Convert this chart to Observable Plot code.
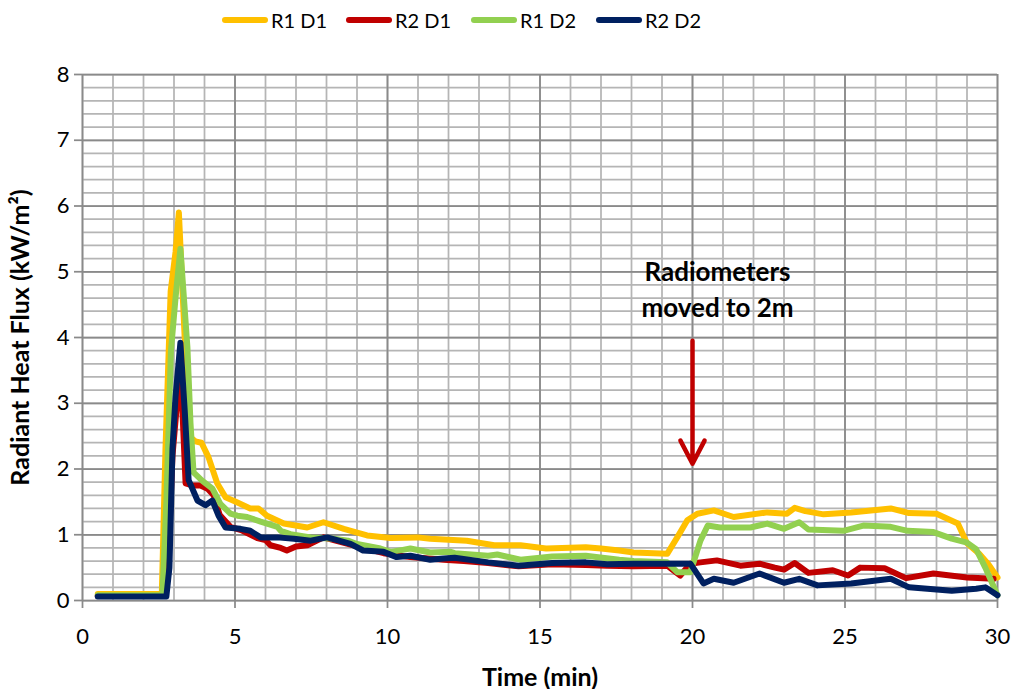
<!DOCTYPE html>
<html>
<head>
<meta charset="utf-8">
<script src="https://cdn.jsdelivr.net/npm/d3@7"></script>
<script src="https://cdn.jsdelivr.net/npm/@observablehq/plot@0.6"></script>
<style>
  html, body { margin: 0; padding: 0; background: #fff; }
  #legend { height: 40px; position: relative; font-family: Lato, "Open Sans", sans-serif; font-size: 20px; color: #000; }
  .item { position: absolute; top: 8px; display: flex; align-items: center; height: 24px; }
  .sw { width: 46px; height: 6px; border-radius: 3px; margin-right: 3px; }
</style>
</head>
<body>
<div id="legend"></div>
<div id="chart"></div>
<script>
const seriesNames = ["R1 D1", "R2 D1", "R1 D2", "R2 D2"];
const seriesColors = ["#FFC000", "#C00000", "#92D050", "#002060"];

const tR1D1 = [0.5, 2.6, 2.72, 2.89, 3.05, 3.16, 3.35, 3.54, 3.7, 3.9, 4.13, 4.42, 4.69, 5.08, 5.5, 5.77, 6.05, 6.6, 7.37, 7.9, 8.57, 8.8, 9.33, 10.1, 10.98, 11.4, 12.6, 13.5, 14.36, 15.2, 16.5, 17.0, 17.6, 18.07, 19.17, 19.5, 19.83, 20.16, 20.7, 21.35, 22.45, 23.1, 23.35, 23.7, 24.3, 25.2, 26.5, 27.1, 28.0, 28.7, 29.0, 29.4, 29.7, 30.0];
const vR1D1 = [0.1, 0.1, 2.3, 4.7, 5.3, 5.9, 4.0, 2.48, 2.42, 2.4, 2.18, 1.78, 1.57, 1.49, 1.4, 1.4, 1.29, 1.17, 1.11, 1.19, 1.09, 1.06, 0.99, 0.95, 0.96, 0.94, 0.91, 0.84, 0.84, 0.79, 0.81, 0.79, 0.76, 0.73, 0.71, 0.96, 1.22, 1.32, 1.37, 1.27, 1.34, 1.32, 1.41, 1.36, 1.31, 1.34, 1.4, 1.33, 1.32, 1.17, 0.87, 0.71, 0.55, 0.35];

const tR2D1 = [0.5, 2.7, 2.8, 2.95, 3.1, 3.22, 3.38, 3.6, 3.87, 4.1, 4.3, 4.5, 4.85, 5.2, 5.73, 6.0, 6.16, 6.5, 6.7, 7.0, 7.37, 7.9, 8.79, 9.87, 10.75, 11.84, 12.5, 13.3, 14.3, 15.4, 16.5, 17.2, 18.07, 19.17, 19.6, 19.93, 20.26, 20.8, 21.57, 22.2, 22.7, 23.0, 23.35, 23.8, 24.6, 25.1, 25.5, 26.3, 27.0, 27.9, 29.0, 29.87];
const vR2D1 = [0.07, 0.07, 0.5, 2.2, 3.0, 3.5, 1.78, 1.75, 1.75, 1.7, 1.6, 1.3, 1.12, 1.07, 0.95, 0.92, 0.84, 0.8, 0.76, 0.82, 0.84, 0.96, 0.85, 0.72, 0.66, 0.62, 0.6, 0.57, 0.52, 0.55, 0.54, 0.53, 0.52, 0.53, 0.38, 0.56, 0.58, 0.61, 0.53, 0.56, 0.5, 0.47, 0.57, 0.42, 0.46, 0.38, 0.5, 0.49, 0.34, 0.41, 0.35, 0.33];

const tR1D2 = [0.5, 2.62, 2.75, 2.9, 3.05, 3.21, 3.44, 3.54, 3.64, 3.93, 4.26, 4.52, 4.85, 5.08, 5.4, 5.84, 6.39, 6.5, 6.82, 7.48, 8.24, 8.7, 9.0, 9.77, 10.1, 10.5, 10.75, 11.4, 12.07, 12.2, 13.3, 13.6, 14.36, 15.4, 16.5, 17.6, 18.07, 19.17, 19.5, 19.93, 20.26, 20.5, 20.9, 21.9, 22.45, 23.0, 23.5, 23.8, 24.95, 25.6, 26.5, 27.05, 27.9, 28.5, 29.0, 29.3, 29.6, 30.0];
const vR1D2 = [0.08, 0.08, 1.5, 3.8, 4.6, 5.35, 3.85, 2.7, 1.95, 1.82, 1.7, 1.47, 1.32, 1.29, 1.27, 1.2, 1.12, 1.06, 1.01, 0.96, 0.94, 0.91, 0.86, 0.79, 0.74, 0.77, 0.79, 0.73, 0.74, 0.72, 0.68, 0.7, 0.62, 0.67, 0.68, 0.62, 0.6, 0.58, 0.43, 0.43, 0.91, 1.14, 1.11, 1.11, 1.17, 1.09, 1.19, 1.08, 1.06, 1.14, 1.12, 1.06, 1.04, 0.94, 0.88, 0.78, 0.5, 0.08];

const tR2D2 = [0.5, 2.75, 2.85, 2.95, 3.05, 3.21, 3.35, 3.48, 3.77, 4.03, 4.26, 4.46, 4.69, 5.18, 5.5, 5.84, 6.39, 6.93, 7.48, 8.02, 8.79, 9.2, 9.87, 10.3, 10.75, 11.4, 11.84, 12.2, 13.3, 14.3, 15.4, 16.5, 17.2, 18.07, 19.17, 19.93, 20.36, 20.7, 21.35, 22.2, 23.0, 23.5, 24.1, 25.2, 26.5, 27.1, 28.5, 29.3, 29.6, 30.0];
const vR2D2 = [0.06, 0.06, 0.5, 2.3, 3.1, 3.92, 2.9, 1.83, 1.52, 1.45, 1.52, 1.29, 1.11, 1.09, 1.06, 0.96, 0.96, 0.94, 0.91, 0.96, 0.86, 0.76, 0.74, 0.66, 0.68, 0.62, 0.64, 0.65, 0.58, 0.53, 0.57, 0.58, 0.55, 0.56, 0.56, 0.56, 0.26, 0.33, 0.27, 0.41, 0.27, 0.33, 0.23, 0.26, 0.33, 0.2, 0.15, 0.18, 0.2, 0.08];

const xTicks = [0, 5, 10, 15, 20, 25, 30];
const yTicks = [0, 1, 2, 3, 4, 5, 6, 7, 8];
const annotationLines = ["Radiometers", "moved to 2m"];
const annotationX = [20.82, 20.82];
const annotationY = [4.99, 4.44];
const arrowX = [20];
const arrowYStart = [3.95];
const arrowYEnd = [2.08];

const tArrays = [tR1D1, tR2D1, tR1D2, tR2D2];
const vArrays = [vR1D1, vR2D1, vR1D2, vR2D2];
const data = seriesNames.flatMap((name, i) => tArrays[i].map((t, j) => ({series: name, t, v: vArrays[i][j]})));

const legend = document.getElementById("legend");
const legendLeft = [222, 346, 471, 596];
seriesNames.forEach((n, i) => {
  const el = document.createElement("div");
  el.className = "item";
  el.style.left = legendLeft[i] + "px";
  el.innerHTML = `<div class="sw" style="background:${seriesColors[i]}"></div><span>${n}</span>`;
  legend.appendChild(el);
});

const minorX = d3.range(0, 31, 1);
const minorY = d3.range(0, 41, 1).map(d => d / 5);

const chart = Plot.plot({
  width: 1015,
  height: 649,
  marginLeft: 82,
  marginRight: 18,
  marginTop: 34,
  marginBottom: 89,
  style: {fontFamily: "Lato, 'Open Sans', sans-serif", background: "#fff", color: "#000"},
  x: {domain: [0, 30]},
  y: {domain: [0, 8]},
  color: {domain: seriesNames, range: seriesColors},
  marks: [
    Plot.gridX(minorX, {stroke: "#b5b5b5", strokeOpacity: 1, strokeWidth: 1.75}),
    Plot.gridY(minorY, {stroke: "#b5b5b5", strokeOpacity: 1, strokeWidth: 1.75}),
    Plot.gridX(xTicks, {stroke: "#8a8a8a", strokeOpacity: 1, strokeWidth: 1.75}),
    Plot.gridY(yTicks, {stroke: "#8a8a8a", strokeOpacity: 1, strokeWidth: 1.75}),
    Plot.axisX({ticks: xTicks, tickSize: 8, tickPadding: 20, fontSize: 22, stroke: "#8a8a8a", strokeWidth: 1.75, fill: "#000", label: null}),
    Plot.axisY({ticks: yTicks, tickSize: 8, tickPadding: 5, fontSize: 22, stroke: "#8a8a8a", strokeWidth: 1.75, fill: "#000", label: null}),
    Plot.line(data, {x: "t", y: "v", z: "series", stroke: "series", strokeWidth: 6, strokeLinejoin: "round", strokeLinecap: "round"}),
    Plot.arrow(arrowX, {x1: d => d, x2: d => d, y1: (d, i) => arrowYStart[i], y2: (d, i) => arrowYEnd[i], stroke: "#C00000", strokeWidth: 4.5, headLength: 8.7, headAngle: 55}),
    Plot.text(annotationLines, {x: (d, i) => annotationX[i], y: (d, i) => annotationY[i], text: d => d, fontSize: 26, fontWeight: "bold", fill: "#000"}),
    Plot.text(["Time (min)"], {frameAnchor: "bottom", lineAnchor: "middle", dy: 77, text: d => d, fontSize: 25, fontWeight: "bold", fill: "#000"}),
    Plot.text(["Radiant Heat Flux (kW/m²)"], {frameAnchor: "left", textAnchor: "middle", dx: -62, rotate: -90, text: d => d, fontSize: 25, fontWeight: "bold", fill: "#000"})
  ]
});
document.getElementById("chart").appendChild(chart);
</script>
</body>
</html>
